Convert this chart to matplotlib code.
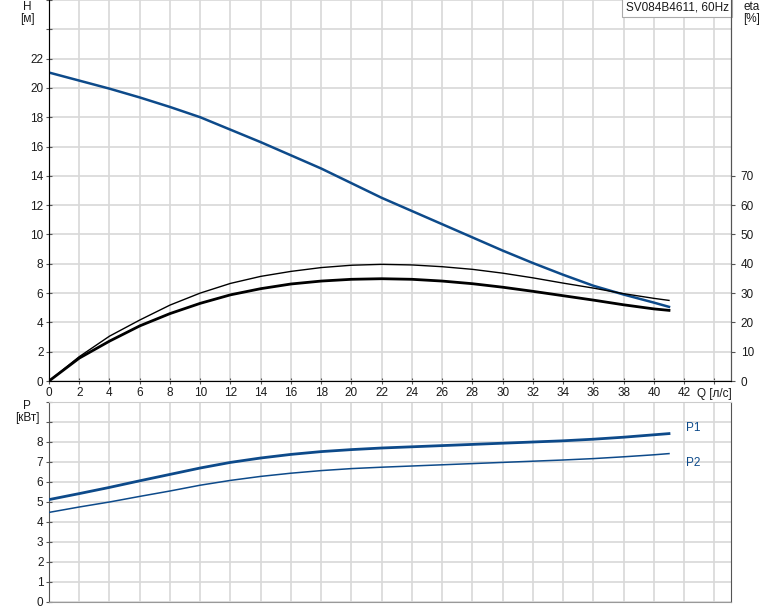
import matplotlib
matplotlib.use("Agg")
import matplotlib.pyplot as plt

plt.rcParams['font.family'] = ['Liberation Sans', 'DejaVu Sans']
plt.rcParams['font.size'] = 8.5

# Расход, л/с
q = [0, 2, 4, 6, 8, 10, 12, 14, 16, 18, 20, 22, 24, 26, 28, 30, 32, 34, 36, 38, 40, 41]
# Напор, м
h = [21.05, 20.5, 19.95, 19.35, 18.7, 18.0, 17.15, 16.3, 15.4, 14.5, 13.5, 12.5,
     11.6, 10.7, 9.8, 8.9, 8.05, 7.25, 6.5, 5.9, 5.35, 5.06]
# КПД, %
eta_thin = [0, 8.3, 15.3, 20.8, 25.9, 30.0, 33.3, 35.7, 37.4, 38.7, 39.5, 39.8,
            39.6, 39.0, 38.1, 36.8, 35.2, 33.4, 31.7, 29.8, 28.2, 27.5]
eta_thick = [0, 7.8, 13.6, 18.8, 23.0, 26.5, 29.4, 31.5, 33.1, 34.1, 34.7, 34.9,
             34.7, 34.1, 33.2, 32.0, 30.6, 29.1, 27.6, 26.0, 24.6, 24.1]
# Мощность, кВт
p1 = [5.12, 5.42, 5.73, 6.06, 6.38, 6.7, 6.98, 7.2, 7.38, 7.52, 7.62, 7.7,
      7.76, 7.82, 7.88, 7.94, 8.0, 8.06, 8.14, 8.24, 8.36, 8.42]
p2 = [4.48, 4.75, 5.0, 5.28, 5.55, 5.84, 6.08, 6.28, 6.44, 6.57, 6.67, 6.74,
      6.8, 6.86, 6.92, 6.98, 7.04, 7.1, 7.17, 7.26, 7.36, 7.42]

x_ticks = list(range(0, 46, 2))
x_labels = [str(v) if v <= 42 else '' for v in x_ticks]
h_ticks = list(range(0, 27, 2))
h_labels = [str(v) if v <= 22 else '' for v in h_ticks]
eta_ticks = list(range(0, 80, 10))
p_ticks = list(range(0, 11))
p_labels = [str(v) if v <= 8 else '' for v in p_ticks]

blue = '#0d4a8a'
grid_c = '#d8d8d8'
txt_c = '#1a1a1a'

fig = plt.figure(figsize=(7.74, 6.11), dpi=100)
ax = fig.add_axes([49 / 774, 1 - 381 / 611, (731 - 49) / 774, 381 / 611])
axp = fig.add_axes([49 / 774, 1 - 602 / 611, (731 - 49) / 774, 200 / 611])

XMAX = 45.1

# Верхний график: напор и КПД
ax.plot(q, h, color=blue, lw=1.8, zorder=3)
ax.set_xlim(0, XMAX)
ax.set_ylim(0, 26)
ax.set_xticks(x_ticks)
ax.set_xticklabels(x_labels)
ax.set_yticks(h_ticks)
ax.set_yticklabels(h_labels)
ax.grid(True, color=grid_c, lw=1.2)
ax.tick_params(direction='inout', length=4, color='#555555', labelcolor=txt_c, pad=2)
ax.spines['top'].set_visible(False)
ax.spines['left'].set_color('#555555')
ax.spines['bottom'].set_color('#999999')
ax.spines['right'].set_color('#555555')

ax2 = ax.twinx()
ax2.plot(q, eta_thin, color='black', lw=1.0, zorder=3)
ax2.plot(q, eta_thick, color='black', lw=2.0, zorder=3)
ax2.set_ylim(0, 130)
ax2.set_yticks(eta_ticks)
ax2.tick_params(direction='out', length=3, color='#555555', labelcolor=txt_c, pad=4)
ax2.spines['top'].set_visible(False)
ax2.spines['right'].set_color('#555555')

ax.text(1.0 - 0.003, 0.995, 'SV084B4611, 60Hz', transform=ax.transAxes,
        ha='right', va='top', color=txt_c, zorder=5,
        bbox=dict(boxstyle='square,pad=0.3', fc='white', ec='#aaaaaa', lw=0.8))
ax.text(44, -0.45, 'Q [л/с]', ha='center', va='top', color=txt_c)

fig.text(27 / 774, 1 - 7 / 611, 'H', ha='center', va='center', color=txt_c)
fig.text(27 / 774, 1 - 19 / 611, '[м]', ha='center', va='center', color=txt_c)
fig.text(752 / 774, 1 - 7 / 611, 'eta', ha='center', va='center', color=txt_c)
fig.text(752 / 774, 1 - 19 / 611, '[%]', ha='center', va='center', color=txt_c)

# Нижний график: мощность
axp.plot(q, p1, color=blue, lw=2.0, zorder=3)
axp.plot(q, p2, color=blue, lw=1.1, zorder=3)
axp.set_xlim(0, XMAX)
axp.set_ylim(0, 10)
axp.set_xticks(x_ticks)
axp.set_xticklabels([])
axp.set_yticks(p_ticks)
axp.set_yticklabels(p_labels)
axp.grid(True, color=grid_c, lw=1.2)
axp.tick_params(axis='x', length=0)
axp.tick_params(axis='y', direction='inout', length=4, color='#555555', labelcolor=txt_c, pad=2)
axp.spines['top'].set_color('#cccccc')
axp.spines['left'].set_color('#555555')
axp.spines['bottom'].set_color('#999999')
axp.spines['right'].set_color('#555555')

axp.text(42.6, 8.7, 'P1', ha='center', va='center', color=blue)
axp.text(42.6, 6.95, 'P2', ha='center', va='center', color=blue)
fig.text(27 / 774, 1 - 406 / 611, 'P', ha='center', va='center', color=txt_c)
fig.text(27 / 774, 1 - 418 / 611, '[кВт]', ha='center', va='center', color=txt_c)

fig.savefig('out.png', dpi=100)
